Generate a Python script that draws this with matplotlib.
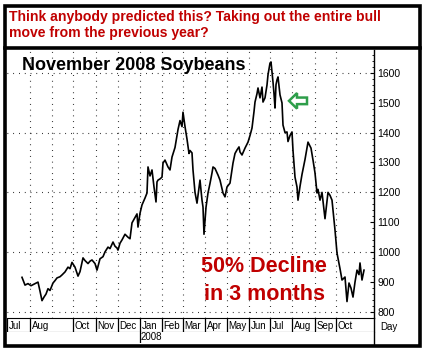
import matplotlib
matplotlib.use('Agg')
import matplotlib.pyplot as plt
from matplotlib.patches import Rectangle, FancyArrow
from matplotlib.lines import Line2D
from matplotlib.ticker import MultipleLocator

plt.rcParams['font.family'] = 'sans-serif'
plt.rcParams['font.sans-serif'] = 'Liberation Sans'

W, H = 424, 352

# trading day (from start of Jul 2007) and November 2008 soybean price (cents/bu)
day = [15, 18, 21, 24, 27, 31, 33, 35, 37, 39, 41, 43, 46, 48, 50, 53, 55, 58, 61, 63,
       65, 68, 71, 73, 76, 78, 81, 83, 85, 88, 90, 93, 96, 98, 101, 103, 106, 108, 110, 111,
       113, 115, 118, 121, 123, 125, 127, 130, 131, 133, 135, 138, 140, 141, 143, 145, 147, 149, 150, 151,
       153, 155, 156, 158, 161, 163, 165, 168, 171, 173, 175, 176, 178, 180, 182, 183, 185, 186, 188, 190,
       191, 193, 195, 196, 197, 199, 201, 203, 205, 206, 208, 211, 213, 216, 218, 220, 223, 226, 228, 230,
       232, 233, 235, 238, 241, 243, 245, 247, 248, 250, 251, 253, 255, 256, 258, 260, 261, 263, 264, 265,
       266, 267, 268, 269, 270, 271, 273, 275, 276, 278, 280, 281, 283, 285, 286, 288, 290, 291, 293, 295,
       298, 300, 301, 303, 304, 306, 308, 310, 311, 313, 315, 318, 321, 323, 325, 328, 330, 333, 335, 338,
       340, 342, 344, 346, 348, 350, 352, 353, 355, 357]
price = [916, 890, 895, 888, 893, 900, 870, 838, 850, 860, 878, 872, 897, 905, 914, 918, 924, 934, 950, 945,
         966, 950, 920, 935, 981, 972, 962, 970, 974, 962, 940, 978, 985, 1001, 1017, 1012, 1034, 1020, 1014, 1007,
         1030, 1041, 1060, 1050, 1045, 1098, 1110, 1128, 1084, 1130, 1158, 1181, 1198, 1285, 1255, 1275, 1218, 1168, 1235, 1241,
         1245, 1251, 1298, 1308, 1285, 1275, 1318, 1350, 1410, 1440, 1420, 1468, 1420, 1378, 1330, 1340, 1332, 1275, 1200, 1164,
         1190, 1241, 1174, 1151, 1060, 1150, 1198, 1230, 1265, 1285, 1280, 1258, 1241, 1198, 1185, 1218, 1231, 1298, 1330, 1342,
         1352, 1335, 1325, 1348, 1368, 1390, 1415, 1470, 1502, 1530, 1549, 1516, 1552, 1502, 1516, 1559, 1593, 1632, 1636, 1602,
         1569, 1530, 1482, 1560, 1576, 1586, 1526, 1499, 1425, 1400, 1402, 1370, 1390, 1402, 1340, 1251, 1218, 1174, 1220, 1260,
         1310, 1350, 1368, 1355, 1348, 1308, 1265, 1198, 1210, 1174, 1200, 1112, 1200, 1190, 1174, 1074, 997, 945, 907, 917,
         835, 897, 880, 850, 900, 940, 925, 964, 907, 940]

month_start = [0, 23, 45, 66, 89, 111, 133, 155, 176, 198, 220, 242, 263, 285, 308, 329]
month_label = ['Jul', 'Aug', '', 'Oct', 'Nov', 'Dec', 'Jan', 'Feb', 'Mar', 'Apr',
               'May', 'Jun', 'Jul', 'Aug', 'Sep', 'Oct']


def fx(px):
    return px / W


def fy(py):
    return 1 - py / H


fig = plt.figure(figsize=(W / 100, H / 100), dpi=100)
fig.patch.set_facecolor('white')

# main price panel
ax = fig.add_axes([fx(7), fy(318), (374 - 7) / W, (318 - 50) / H])
ax.plot(day, price, color='black', linewidth=1.2)
ax.set_xlim(0, 367)
ax.set_ylim(780, 1676)
for v in range(800, 1700, 200):
    ax.axhline(v, color='black', linewidth=0.8, linestyle=(0, (0.7, 4.5)), zorder=0)
for m in month_start[1:]:
    ax.axvline(m, color='black', linewidth=0.8, linestyle=(0, (0.7, 4.5)), zorder=0)
for s in ['left', 'top', 'bottom']:
    ax.spines[s].set_visible(False)
ax.spines['right'].set_linewidth(1.0)
ax.set_xticks([])
ax.yaxis.tick_right()
ax.yaxis.set_major_locator(MultipleLocator(100))
ax.yaxis.set_minor_locator(MultipleLocator(20))
ax.tick_params(axis='y', which='major', direction='in', length=3, width=0.8,
               labelsize=7.5, pad=2.5)
ax.tick_params(axis='y', which='minor', direction='in', length=1.5, width=0.6)

fig.text(fx(22), fy(66), 'November 2008 Soybeans',
         fontsize=13, fontweight='bold', ha='left', va='center')
fig.text(fx(264), fy(266), '50% Decline', color='#c00000', fontsize=15.5,
         fontweight='bold', ha='center', va='center')
fig.text(fx(265), fy(294), 'in 3 months', color='#c00000', fontsize=15.5,
         fontweight='bold', ha='center', va='center')
ax.add_patch(FancyArrow(300, 1506, -18, 0, width=22, head_width=52, head_length=8,
                        length_includes_head=True, facecolor='white',
                        edgecolor='#2e9e4a', linewidth=1.8))

# month row
axm = fig.add_axes([fx(7), fy(332), 367 / W, 14 / H])
axm.set_xlim(0, 367)
axm.set_ylim(0, 1)
axm.set_xticks([])
axm.set_yticks([])
for s in ['left', 'right']:
    axm.spines[s].set_visible(False)
for m, lab in zip(month_start, month_label):
    if lab:
        axm.axvline(m, color='black', linewidth=0.9)
        axm.text(m + 1.5, 0.45, lab, fontsize=7, ha='left', va='center')

# year row
axy = fig.add_axes([fx(7), fy(343), 367 / W, 11 / H])
axy.set_xlim(0, 367)
axy.set_ylim(0, 1)
axy.set_xticks([])
axy.set_yticks([])
for s in ['left', 'right', 'top', 'bottom']:
    axy.spines[s].set_visible(False)
axy.axvline(month_start[6], color='black', linewidth=0.9)
axy.text(month_start[6] + 1, 0.5, '2008', fontsize=7, ha='left', va='center')

fig.add_artist(Line2D([fx(374), fx(374)], [fy(318), fy(344)], color='black', linewidth=1.0))
fig.text(fx(389), fy(327), 'Day', fontsize=7, ha='center', va='center')

# header and frame
fig.text(fx(9), fy(17), 'Think anybody predicted this? Taking out the entire bull',
         color='#c00000', fontsize=10.1, fontweight='bold', ha='left', va='center')
fig.text(fx(9), fy(33), 'move from the previous year?',
         color='#c00000', fontsize=10.1, fontweight='bold', ha='left', va='center')
fig.add_artist(Rectangle((fx(5), fy(345.5)), (419.5 - 5) / W, (345.5 - 6) / H,
                         transform=fig.transFigure, fill=False, edgecolor='black',
                         linewidth=2.6))
fig.add_artist(Line2D([fx(5), fx(419.5)], [fy(48), fy(48)], color='black', linewidth=2.6))

fig.savefig('out.png', dpi=100)
